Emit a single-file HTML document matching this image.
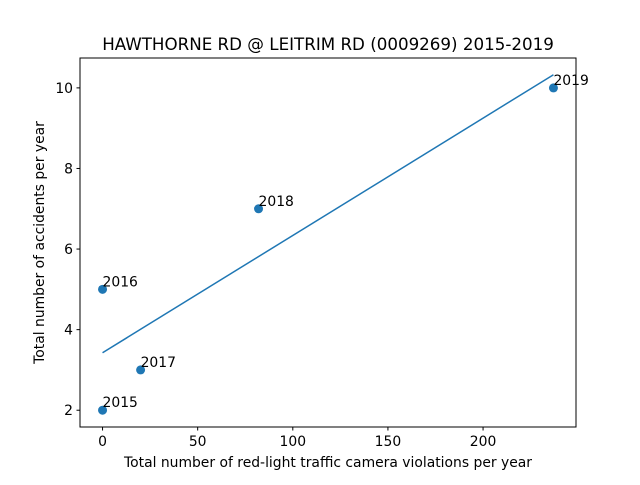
<!DOCTYPE html>
<html><head><meta charset="utf-8"><style>
body{margin:0;background:#fff;}
text{font-family:"DejaVu Sans","Liberation Sans",sans-serif;fill:#000;}
</style></head><body>
<svg id="chart" width="640" height="480" xmlns="http://www.w3.org/2000/svg">
<rect width="640" height="480" fill="#fff"/>
<text x="328" y="50" font-size="16.7" text-anchor="middle">HAWTHORNE RD @ LEITRIM RD (0009269) 2015-2019</text>
<g id="plot"></g>
<rect x="80" y="58" width="496" height="369" fill="none" stroke="#000" stroke-width="1"/>
<text x="328" y="467" font-size="13.9" text-anchor="middle">Total number of red-light traffic camera violations per year</text>
<text transform="translate(44,242.5) rotate(-90)" font-size="13.9" text-anchor="middle">Total number of accidents per year</text>
</svg>
<script>
const years=["2015","2016","2017","2018","2019"];
const violations=[0,0,20,82,237];
const accidents=[2,5,3,7,10];
const xTicks=[0,50,100,150,200];
const yTicks=[2,4,6,8,10];
const L=80,R=576,T=58,B=427;
const n=violations.length;
const mx=violations.reduce((a,b)=>a+b)/n,my=accidents.reduce((a,b)=>a+b)/n;
let sxy=0,sxx=0;for(let i=0;i<n;i++){sxy+=(violations[i]-mx)*(accidents[i]-my);sxx+=(violations[i]-mx)**2;}
const slope=sxy/sxx,icpt=my-slope*mx;
const xmin0=Math.min(...violations),xmax0=Math.max(...violations);
const fy=v=>slope*v+icpt;
const ys=[...accidents,fy(xmin0),fy(xmax0)];
let ymin0=Math.min(...ys),ymax0=Math.max(...ys);
const xm=(xmax0-xmin0)*0.05,ym=(ymax0-ymin0)*0.05;
const X0=xmin0-xm,X1=xmax0+xm,Y0=ymin0-ym,Y1=ymax0+ym;
const sx=v=>L+(v-X0)/(X1-X0)*(R-L);
const sy=v=>B-(v-Y0)/(Y1-Y0)*(B-T);
const g=document.getElementById('plot');const NS='http://www.w3.org/2000/svg';
function mk(t,a){const e=document.createElementNS(NS,t);for(const k in a)e.setAttribute(k,a[k]);g.appendChild(e);return e;}
xTicks.forEach(v=>{const x=sx(v);
const l=mk('line',{x1:x,x2:x,y1:B,y2:B+3.5,stroke:'#000'});


const t=mk('text',{x:x,y:B+19,'font-size':13.9,'text-anchor':'middle'});t.textContent=v;

});
yTicks.forEach(v=>{const y=sy(v);
const l=mk('line',{x1:L-3.5,x2:L,y1:y,y2:y,stroke:'#000'});


const t=mk('text',{x:L-7,y:y+5,'font-size':13.9,'text-anchor':'end'});t.textContent=v;

});
const ln=mk('line',{x1:sx(xmin0),y1:sy(fy(xmin0)),x2:sx(xmax0),y2:sy(fy(xmax0)),stroke:'#1f77b4','stroke-width':1.5});


for(let i=0;i<n;i++){
const c=mk('circle',{cx:sx(violations[i]),cy:sy(accidents[i]),r:4.5,fill:'#1f77b4'});


const t=mk('text',{x:sx(violations[i]),y:sy(accidents[i])-3,'font-size':13.9});t.textContent=years[i];

}
</script>
</body></html>
